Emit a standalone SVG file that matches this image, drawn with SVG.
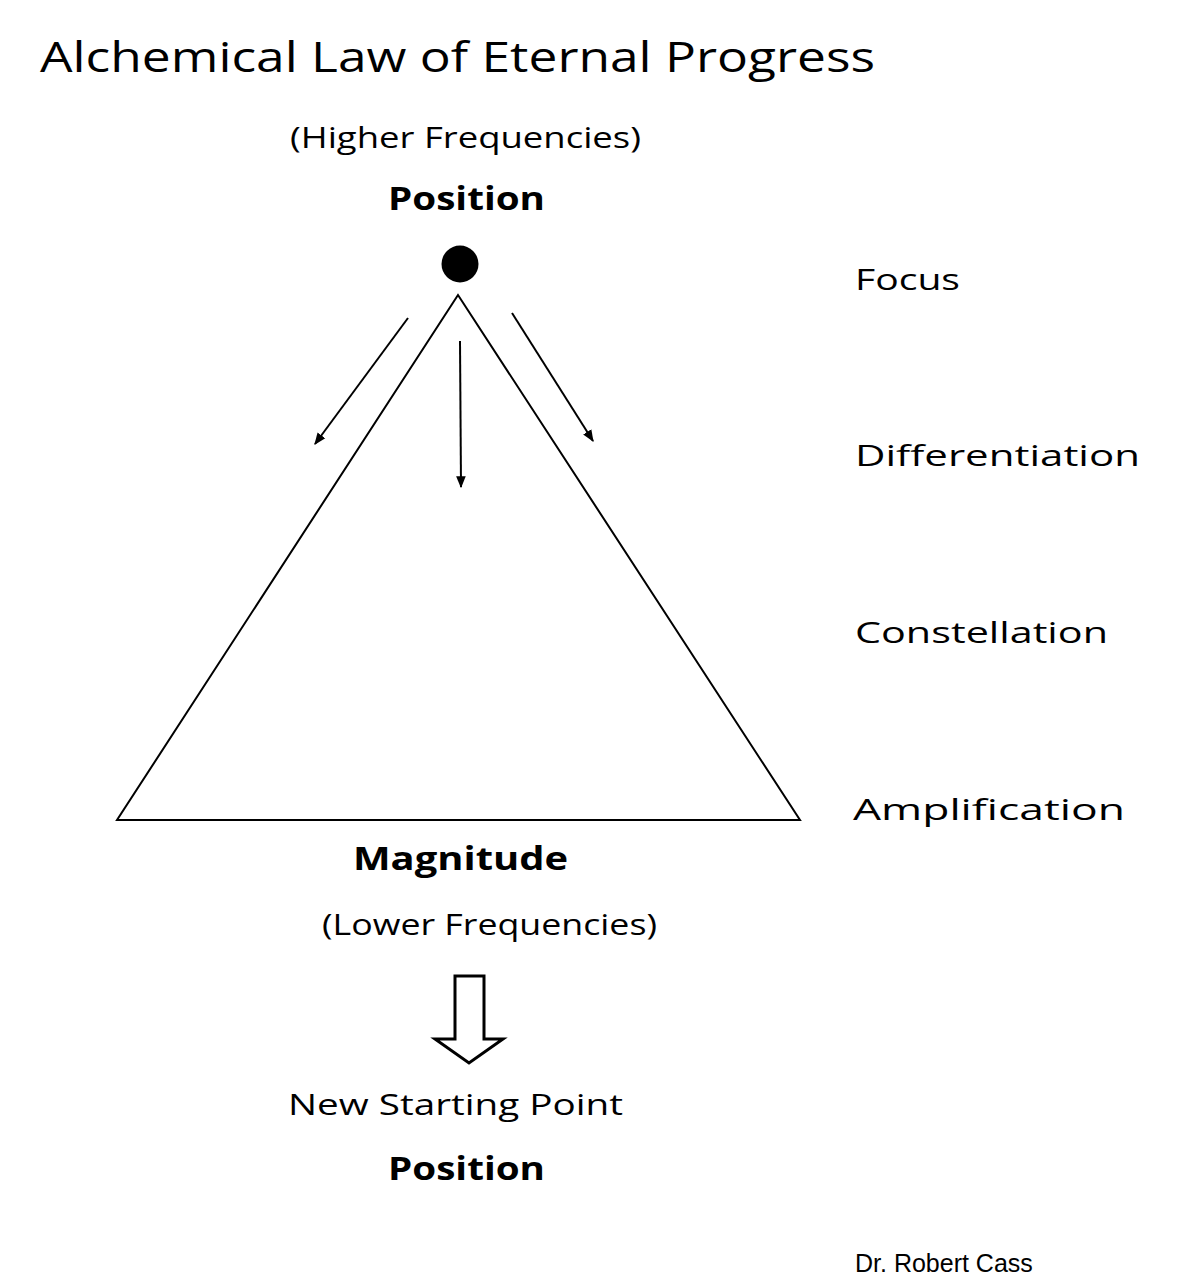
<svg xmlns="http://www.w3.org/2000/svg" width="1200" height="1286" viewBox="0 0 1200 1286">
<style>
.h{font-family:"Open Sans","DejaVu Sans",sans-serif;fill:#000;}
.b{font-family:"Open Sans","DejaVu Sans",sans-serif;font-weight:bold;fill:#000;}
.ln{stroke:#000;stroke-width:2;fill:none;}
</style>
<defs>
<marker id="ah2" viewBox="0 0 10 10" refX="9" refY="5" markerWidth="12" markerHeight="12" orient="auto" markerUnits="userSpaceOnUse">
<path d="M0,1 L10,5 L0,9 z" fill="#000"/>
</marker>
</defs>
<rect width="1200" height="1286" fill="#fff"/>
<text class="h" x="40" y="72" font-size="42" textLength="835" lengthAdjust="spacingAndGlyphs">Alchemical Law of Eternal Progress</text>
<g id="top-label">
<text class="h" x="290" y="148" font-size="30" textLength="351" lengthAdjust="spacingAndGlyphs">(Higher Frequencies)</text>
<text class="b" x="388" y="210" font-size="32" textLength="157" lengthAdjust="spacingAndGlyphs">Position</text>
</g>
<g id="dot"><circle cx="460" cy="264" r="18.5" fill="#000"/></g>
<g id="triangle"><polygon class="ln" points="458,295 117,820 800,820"/></g>
<g id="connectors">
<line class="ln" x1="408" y1="318" x2="315" y2="444" marker-end="url(#ah2)"/>
<line class="ln" x1="460" y1="341" x2="461" y2="487" marker-end="url(#ah2)"/>
<line class="ln" x1="512" y1="313" x2="593" y2="441" marker-end="url(#ah2)"/>
</g>
<g id="stages">
<text class="h" x="855" y="290" font-size="30" textLength="105" lengthAdjust="spacingAndGlyphs">Focus</text>
<text class="h" x="855" y="466" font-size="30" textLength="285" lengthAdjust="spacingAndGlyphs">Differentiation</text>
<text class="h" x="855" y="643" font-size="30" textLength="253" lengthAdjust="spacingAndGlyphs">Constellation</text>
<text class="h" x="853" y="820" font-size="30" textLength="272" lengthAdjust="spacingAndGlyphs">Amplification</text>
</g>
<g id="bottom-label">
<text class="b" x="353" y="870" font-size="32" textLength="215" lengthAdjust="spacingAndGlyphs">Magnitude</text>
<text class="h" x="322" y="935" font-size="30" textLength="335" lengthAdjust="spacingAndGlyphs">(Lower Frequencies)</text>
</g>
<g id="block-arrow"><polygon points="455,976 484,976 484,1039 503,1039 469,1063 435,1039 455,1039" fill="#fff" stroke="#000" stroke-width="3" stroke-linejoin="miter"/></g>
<g id="new-start">
<text class="h" x="288" y="1115" font-size="30" textLength="335" lengthAdjust="spacingAndGlyphs">New Starting Point</text>
<text class="b" x="388" y="1180" font-size="32" textLength="157" lengthAdjust="spacingAndGlyphs">Position</text>
</g>
<text x="855" y="1272" font-family="'Liberation Sans',Arial,sans-serif" font-size="25" fill="#000">Dr. Robert Cass</text>
</svg>
